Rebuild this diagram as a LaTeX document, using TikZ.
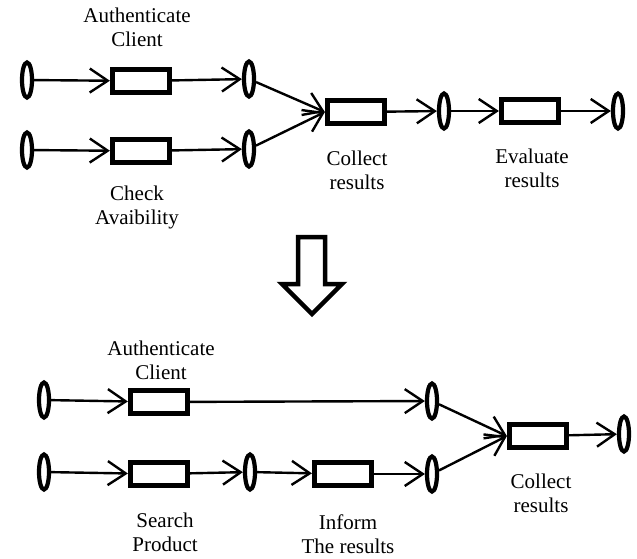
\documentclass[tikz,border=0pt]{standalone}
\usepackage{fontspec}
\setmainfont{Liberation Serif}
\usetikzlibrary{shapes.geometric,arrows.meta}

\begin{document}
\begin{tikzpicture}[x=1pt,y=-1pt,
  evt/.style={ellipse,draw,line width=4.2pt,minimum width=10pt,minimum height=35pt,inner sep=0pt},
  task/.style={rectangle,draw,line width=5.2pt,minimum width=57pt,minimum height=23pt,inner sep=0pt},
  flow/.style={line width=2.4pt,-{Straight Barb[length=18pt,width=24pt]}},
  lbl/.style={align=center,font=\fontsize{21}{24}\selectfont}]
\useasboundingbox (0,0) rectangle (637,558);

% before
\node[evt] (s1) at (27,80) {};
\node[task] (auth) at (141,81) {};
\node[evt] (e1) at (249,79) {};
\node[evt] (s2) at (27,150) {};
\node[task] (check) at (141,151) {};
\node[evt] (e2) at (249,149) {};
\node[task] (collect) at (356,112) {};
\node[evt] (e3) at (444,111) {};
\node[task] (evaluate) at (530,111) {};
\node[evt] (e4) at (618,111) {};

\draw[flow] (s1) -- (auth);
\draw[flow] (auth) -- (e1);
\draw[flow] (s2) -- (check);
\draw[flow] (check) -- (e2);
\draw[flow] (e1) -- (collect.west);
\draw[flow] (e2) -- (collect.west);
\draw[flow] (collect) -- (e3);
\draw[flow] (e3) -- (evaluate);
\draw[flow] (evaluate) -- (e4);

\node[lbl] (lauth) at (137,27) {Authenticate\\Client};
\node[lbl] (lcheck) at (137,207) {Check\\Avaibility};
\node[lbl] (lcollect) at (357,170) {Collect\\results};
\node[lbl] (leval) at (532,168) {Evaluate\\results};

% big arrow
\draw[line width=4.5pt,line join=miter] (298,237) -- (325,237) -- (325,284) -- (342,284)
  -- (312,314) -- (282,284) -- (298,284) -- cycle;

% after
\node[evt] (bs1) at (44,400) {};
\node[task] (bauth) at (159,402) {};
\node[evt] (bj1) at (432,401) {};
\node[evt] (bs2) at (44,472) {};
\node[task] (search) at (159,474) {};
\node[evt] (bm) at (250,472) {};
\node[task] (inform) at (343,474) {};
\node[evt] (bj2) at (432,474) {};
\node[task] (bcollect) at (538,436) {};
\node[evt] (bend) at (624,434) {};

\draw[flow] (bs1) -- (bauth);
\draw[flow] (bauth) -- (bj1);
\draw[flow] (bs2) -- (search);
\draw[flow] (search) -- (bm);
\draw[flow] (bm) -- (inform);
\draw[flow] (inform) -- (bj2);
\draw[flow] (bj1) -- (bcollect.west);
\draw[flow] (bj2) -- (bcollect.west);
\draw[flow] (bcollect) -- (bend);

\node[lbl] (lbauth) at (161,360) {Authenticate\\Client};
\node[lbl] (lsearch) at (165,532) {Search\\Product};
\node[lbl] (linform) at (348,534) {Inform\\The results};
\node[lbl] (lbcollect) at (541,493) {Collect\\results};
\end{tikzpicture}
\end{document}
